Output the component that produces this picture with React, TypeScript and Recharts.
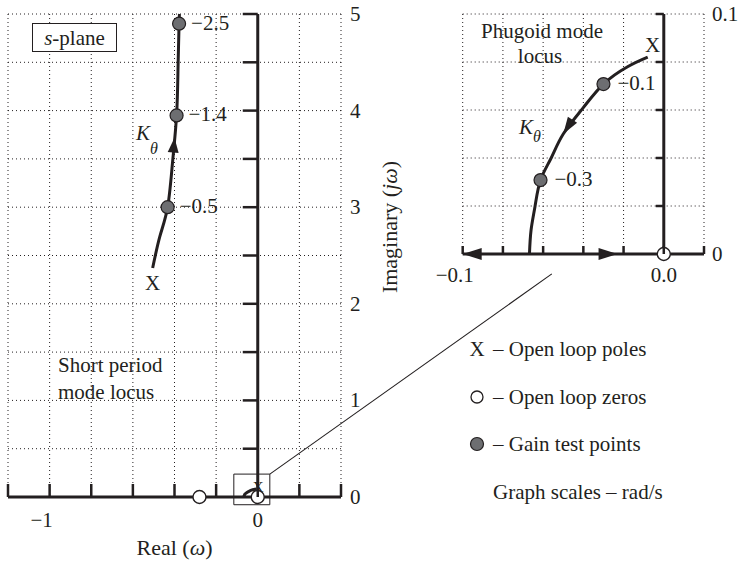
import React from "react";
import {
  ComposedChart,
  Line,
  Scatter,
  XAxis,
  YAxis,
  CartesianGrid,
  ReferenceLine,
  ReferenceArea,
  Label,
} from "recharts";

const INK = "#231f20";
const GREY = "#6d6e71";
const FONT = "'Liberation Serif', 'Times New Roman', serif";

// short period mode locus (real, imaginary) in rad/s
const spLocus = [
  { x: -0.505, y: 2.37 },
  { x: -0.47, y: 2.7 },
  { x: -0.433, y: 3.0 },
  { x: -0.41, y: 3.45 },
  { x: -0.39, y: 3.95 },
  { x: -0.383, y: 4.45 },
  { x: -0.378, y: 4.9 },
  { x: -0.376, y: 5.0 },
];
const spGain = [
  { x: -0.433, y: 3.0, k: "−0.5" },
  { x: -0.39, y: 3.95, k: "−1.4" },
  { x: -0.378, y: 4.9, k: "−2.5" },
];
const spPole = [{ x: -0.505, y: 2.37 }];
const spZeros = [
  { x: -0.28, y: 0 },
  { x: 0, y: 0 },
];
const spArrow = [{ x: -0.4, y: 3.72, deg: -85 }];

// phugoid mode locus, shown enlarged in the inset
const phLocus = [
  { x: -0.008, y: 0.082 },
  { x: -0.018, y: 0.078 },
  { x: -0.03, y: 0.0708 },
  { x: -0.04, y: 0.061 },
  { x: -0.05, y: 0.05 },
  { x: -0.056, y: 0.04 },
  { x: -0.0613, y: 0.0308 },
  { x: -0.064, y: 0.02 },
  { x: -0.066, y: 0.01 },
  { x: -0.0668, y: 0 },
];
const phGain = [
  { x: -0.03, y: 0.0708, k: "−0.1" },
  { x: -0.0613, y: 0.0308, k: "−0.3" },
];
const phPole = [{ x: -0.008, y: 0.082 }];
const phZeros = [{ x: 0, y: 0 }];
const phCurveArrow = [{ x: -0.05, y: 0.05, deg: 123 }];
const phAxisArrows = [
  { x: -0.1, y: 0, deg: 180 },
  { x: -0.023, y: 0, deg: 0 },
];

const mainXTicks = [-1.2, -1, -0.8, -0.6, -0.4, -0.2, 0, 0.2, 0.4];
const mainYTicks = [0, 0.5, 1, 1.5, 2, 2.5, 3, 3.5, 4, 4.5, 5];
const mainXLabels = [
  { v: -1, t: "−1" },
  { v: 0, t: "0" },
];
const insetXTicks = [-0.1, -0.08, -0.06, -0.04, -0.02, 0, 0.02];
const insetYTicks = [0, 0.02, 0.04, 0.06, 0.08, 0.1];
const insetXLabels = [
  { v: -0.1, t: "−0.1" },
  { v: 0, t: "0.0" },
];
const insetYLabels = [
  { v: 0, t: "0" },
  { v: 0.1, t: "0.1" },
];

// origin zoom box and leader line to the inset
const zoomBox = { x1: -0.115, x2: 0.058, y1: -0.08, y2: 0.237 };
const leader = [
  { x: 0.058, y: 0.237 },
  { x: 1.413, y: 2.31 },
];

const find = (list: { v: number; t: string }[], v: number) =>
  list.find((l) => Math.abs(l.v - v) < 1e-9);

const txt = { fontFamily: FONT, fontSize: 21, fill: INK } as const;

const arrowShape = (len: number, half: number) => (p: any) => {
  const { cx, cy, payload } = p;
  const a = (payload.deg * Math.PI) / 180;
  const c = Math.cos(a);
  const s = Math.sin(a);
  const bx = cx - len * c;
  const by = cy - len * s;
  const pts = [
    [cx, cy],
    [bx - half * s, by + half * c],
    [bx + half * s, by - half * c],
  ];
  return <polygon points={pts.map((q) => q.join(",")).join(" ")} fill={INK} />;
};

const gainShape = (gap: number) => (p: any) => (
  <g>
    <circle cx={p.cx} cy={p.cy} r={6.5} fill={GREY} stroke={INK} strokeWidth={1.2} />
    <text {...txt} x={p.cx + gap} y={p.cy - 1} dominantBaseline="central">
      {p.payload.k}
    </text>
  </g>
);

const zeroShape = (p: any) => (
  <circle cx={p.cx} cy={p.cy} r={6.5} fill="#fff" stroke={INK} strokeWidth={1.4} />
);

const poleShape = (dx: number, dy: number, size: number) => (p: any) => (
  <text
    {...txt}
    fontSize={size}
    x={p.cx + dx}
    y={p.cy + dy}
    textAnchor="middle"
    dominantBaseline="central"
  >
    X
  </text>
);

const MainXTick = (p: any) => {
  const lab = find(mainXLabels, p.payload.value);
  return (
    <g>
      <line x1={p.x} x2={p.x} y1={p.y} y2={p.y - 13} stroke={INK} strokeWidth={2.5} />
      {lab && (
        <text {...txt} x={lab.v < 0 ? p.x - 8 : p.x} y={p.y + 30} textAnchor="middle">
          {lab.t}
        </text>
      )}
    </g>
  );
};

const MainYTick = (p: any) =>
  Number.isInteger(p.payload.value) ? (
    <text {...txt} x={p.x + 9} y={p.y} dominantBaseline="central">
      {p.payload.value}
    </text>
  ) : (
    <g />
  );

const InsetXTick = (p: any) => {
  const lab = find(insetXLabels, p.payload.value);
  return (
    <g>
      <line x1={p.x} x2={p.x} y1={p.y} y2={p.y - 8} stroke={INK} strokeWidth={2.5} />
      {lab && (
        <text {...txt} x={lab.v < 0 ? p.x - 8 : p.x} y={p.y + 28} textAnchor="middle">
          {lab.t}
        </text>
      )}
    </g>
  );
};

const InsetYTick = (p: any) => {
  const lab = find(insetYLabels, p.payload.value);
  return lab ? (
    <text {...txt} x={p.x + 8} y={p.y} dominantBaseline="central">
      {lab.t}
    </text>
  ) : (
    <g />
  );
};

function MainPlane() {
  return (
    <ComposedChart width={742} height={564} margin={{ top: 14, left: 8, right: 361, bottom: 27 }}>
      <CartesianGrid stroke={INK} strokeDasharray="1 3" strokeWidth={1} />
      <XAxis
        type="number"
        dataKey="x"
        domain={[-1.2, 0.4]}
        ticks={mainXTicks}
        interval={0}
        height={40}
        axisLine={{ stroke: INK, strokeWidth: 3 }}
        tickLine={false}
        tickSize={0}
        tickMargin={0}
        tick={MainXTick}
      >
        <Label
          content={(p: any) => (
            <text
              {...txt}
              fontSize={22}
              x={p.viewBox.x + p.viewBox.width / 2}
              y={p.viewBox.y + 50}
              textAnchor="middle"
              dominantBaseline="central"
            >
              Real (<tspan fontStyle="italic">ω</tspan>)
            </text>
          )}
        />
      </XAxis>
      <YAxis
        type="number"
        dataKey="y"
        orientation="right"
        domain={[0, 5]}
        ticks={mainYTicks}
        interval={0}
        width={40}
        axisLine={false}
        tickLine={false}
        tickSize={0}
        tickMargin={0}
        tick={MainYTick}
      >
        <Label
          content={(p: any) => {
            const cx = p.viewBox.x + 48;
            const cy = p.viewBox.y + 213;
            return (
              <text
                {...txt}
                fontSize={22}
                x={cx}
                y={cy}
                textAnchor="middle"
                dominantBaseline="central"
                transform={`rotate(-90 ${cx} ${cy})`}
              >
                Imaginary (<tspan fontStyle="italic">jω</tspan>)
              </text>
            );
          }}
        />
      </YAxis>

      <ReferenceLine x={0} stroke={INK} strokeWidth={3} />
      {mainYTicks
        .filter((v) => v > 0)
        .map((v) => (
          <ReferenceLine
            key={v}
            segment={[
              { x: -0.072, y: v },
              { x: 0, y: v },
            ]}
            stroke={INK}
            strokeWidth={2.5}
          />
        ))}
      <ReferenceArea
        {...zoomBox}
        fill="none"
        stroke={INK}
        strokeWidth={1}
        ifOverflow="visible"
      />
      <ReferenceLine segment={leader} stroke={INK} strokeWidth={1.1} ifOverflow="visible" />

      <Line
        data={spLocus}
        dataKey="y"
        type="natural"
        stroke={INK}
        strokeWidth={3}
        dot={false}
        isAnimationActive={false}
      />
      <Line
        data={phLocus}
        dataKey="y"
        type="natural"
        stroke={INK}
        strokeWidth={3}
        dot={false}
        isAnimationActive={false}
      />
      <Scatter data={phPole} shape={poleShape(2, -2, 15)} isAnimationActive={false} />
      <Scatter data={spArrow} shape={arrowShape(15, 5.5)} isAnimationActive={false} />
      <Scatter data={spPole} shape={poleShape(0, 15, 21)} isAnimationActive={false} />
      <Scatter data={spZeros} shape={zeroShape} isAnimationActive={false} />
      <Scatter data={spGain} shape={gainShape(12)} isAnimationActive={false} />
    </ComposedChart>
  );
}

function PhugoidInset() {
  return (
    <ComposedChart width={742} height={564} margin={{ top: 14, left: 462.7, right: 0, bottom: 280 }}>
      <CartesianGrid stroke={INK} strokeDasharray="1 3" strokeWidth={1} />
      <XAxis
        type="number"
        dataKey="x"
        domain={[-0.1, 0.02]}
        ticks={insetXTicks}
        interval={0}
        height={30}
        axisLine={{ stroke: INK, strokeWidth: 3 }}
        tickLine={false}
        tickSize={0}
        tickMargin={0}
        tick={InsetXTick}
      />
      <YAxis
        type="number"
        dataKey="y"
        orientation="right"
        domain={[0, 0.1]}
        ticks={insetYTicks}
        interval={0}
        width={38}
        axisLine={false}
        tickLine={false}
        tickSize={0}
        tickMargin={0}
        tick={InsetYTick}
      />
      <ReferenceLine x={0} stroke={INK} strokeWidth={3} />
      {insetYTicks
        .filter((v) => v > 0)
        .map((v) => (
          <ReferenceLine
            key={v}
            segment={[
              { x: -0.004, y: v },
              { x: 0, y: v },
            ]}
            stroke={INK}
            strokeWidth={2.5}
          />
        ))}
      <Line
        data={phLocus}
        dataKey="y"
        type="natural"
        stroke={INK}
        strokeWidth={3}
        dot={false}
        isAnimationActive={false}
      />
      <Scatter data={phCurveArrow} shape={arrowShape(17, 5.5)} isAnimationActive={false} />
      <Scatter data={phAxisArrows} shape={arrowShape(19, 6)} isAnimationActive={false} />
      <Scatter data={phPole} shape={poleShape(5, -12, 21)} isAnimationActive={false} />
      <Scatter data={phZeros} shape={zeroShape} isAnimationActive={false} />
      <Scatter data={phGain} shape={gainShape(14)} isAnimationActive={false} />
    </ComposedChart>
  );
}

function Notes() {
  const t = { ...txt, dominantBaseline: "central" as const };
  return (
    <svg
      width={742}
      height={564}
      style={{ position: "absolute", left: 0, top: 0, pointerEvents: "none" }}
    >
      <rect x={32.5} y={23.5} width={84} height={28} fill="#fff" stroke={INK} strokeWidth={1} />
      <text {...t} x={74.5} y={38} textAnchor="middle">
        <tspan fontStyle="italic">s</tspan>-plane
      </text>

      <text {...t} x={58} y={365}>Short period</text>
      <text {...t} x={58} y={392}>mode locus</text>

      <text {...t} x={542} y={31} textAnchor="middle">Phugoid mode</text>
      <text {...t} x={540} y={56} textAnchor="middle">locus</text>

      <text {...t} x={136} y={133} fontStyle="italic">
        K
      </text>
      <text {...t} fontSize={16} x={150} y={148} fontStyle="italic">
        θ
      </text>
      <text {...t} x={519} y={127} fontStyle="italic">
        K
      </text>
      <text {...t} fontSize={16} x={533} y={136} fontStyle="italic">
        θ
      </text>

      <text {...t} x={477} y={349} textAnchor="middle">X</text>
      <text {...t} x={493} y={349}>– Open loop poles</text>
      <circle cx={477} cy={397} r={6} fill="#fff" stroke={INK} strokeWidth={1.3} />
      <text {...t} x={493} y={397}>– Open loop zeros</text>
      <circle cx={477} cy={444} r={6.5} fill={GREY} stroke={INK} strokeWidth={1.2} />
      <text {...t} x={493} y={444}>– Gain test points</text>
      <text {...t} x={493} y={492}>Graph scales – rad/s</text>
    </svg>
  );
}

export default function App() {
  return (
    <div style={{ position: "absolute", left: 0, top: 0, width: 742, height: 564, background: "#fff" }}>
      <div style={{ position: "absolute", left: 0, top: 0 }}>
        <MainPlane />
      </div>
      <div style={{ position: "absolute", left: 0, top: 0 }}>
        <PhugoidInset />
      </div>
      <Notes />
    </div>
  );
}
